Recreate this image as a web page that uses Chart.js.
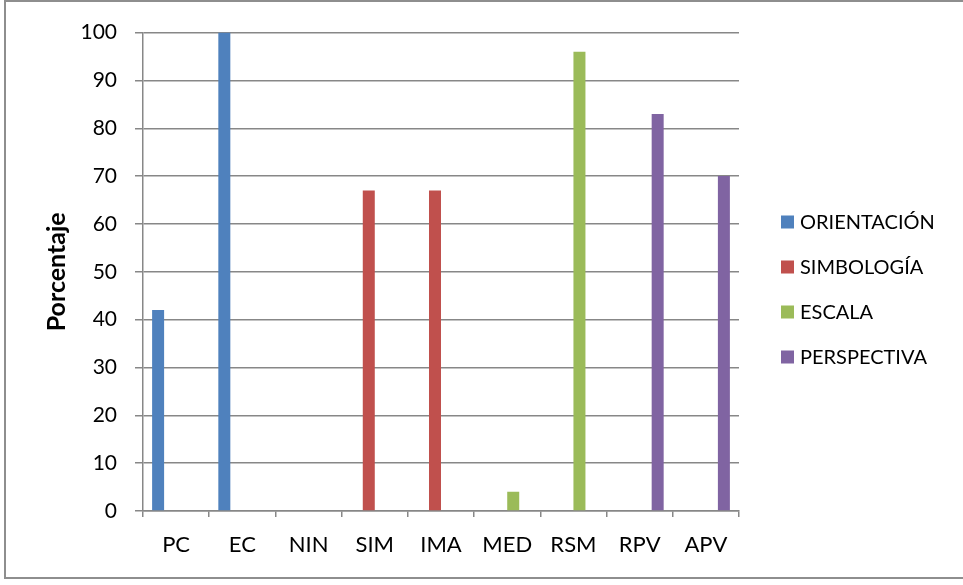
<!DOCTYPE html>
<html lang="es">
<head>
<meta charset="utf-8"/>
<title>Porcentaje por categoría</title>
<script src="https://cdn.jsdelivr.net/npm/chart.js"></script>
<style>
    html, body { margin: 0; padding: 0; background: #fff; overflow: hidden; }
    .frame { position: absolute; left: 4px; top: 0px; width: 965px; height: 575px; border: 2px solid #8e8e8e; }
    canvas { display: block; }
  </style>
</head>
<body>
<div class="frame">
<canvas id="chart" width="951" height="575"></canvas>
</div>
<script>
    const categorias = ['PC', 'EC', 'NIN', 'SIM', 'IMA', 'MED', 'RSM', 'RPV', 'APV'];
    const orientacion = [42, 100, null, null, null, null, null, null, null];
    const simbologia = [null, null, null, 67, 67, null, null, null, null];
    const escala = [null, null, null, null, null, 4, 96, null, null];
    const perspectiva = [null, null, null, null, null, null, null, 83, 70];
    const ticksY = [0, 10, 20, 30, 40, 50, 60, 70, 80, 90, 100];

    const gris = '#878787';
    const fuente = 'Lato, "Open Sans", sans-serif';

    // leyenda a la derecha, dibujada a mano
    const leyenda = {
      id: 'leyenda',
      afterDraw(chart) {
        const ctx = chart.ctx;
        ctx.save();
        ctx.font = '20px ' + fuente;
        ctx.textBaseline = 'middle';
        chart.data.datasets.forEach((ds, i) => {
          const y = 220 + i * 45;
          ctx.fillStyle = ds.backgroundColor;
          ctx.fillRect(775, y - 6.5, 13, 13);
          ctx.fillStyle = '#000';
          ctx.fillText(ds.label, 794, y + 1);
        });
        ctx.restore();
      }
    };

    new Chart(document.getElementById('chart'), {
      type: 'bar',
      data: {
        labels: categorias,
        datasets: [
          { label: 'ORIENTACIÓN', data: orientacion, backgroundColor: '#4f81bd' },
          { label: 'SIMBOLOGÍA', data: simbologia, backgroundColor: '#c0504d' },
          { label: 'ESCALA', data: escala, backgroundColor: '#9bbb59' },
          { label: 'PERSPECTIVA', data: perspectiva, backgroundColor: '#8064a2' }
        ]
      },
      options: {
        responsive: false,
        animation: false,
        barPercentage: 1,
        categoryPercentage: 0.725,
        layout: { padding: { left: 0, top: 30, right: 218, bottom: 0 } },
        plugins: { legend: { display: false }, tooltip: { enabled: false } },
        scales: {
          x: {
            afterFit: s => { s.height = 66; },
            grid: { offset: true, drawOnChartArea: false, drawTicks: true, tickLength: 6, color: gris, lineWidth: 1.5 },
            border: { color: gris, width: 1.5 },
            ticks: { color: '#000', font: { family: fuente, size: 22 }, padding: 15 }
          },
          y: {
            min: 0,
            max: 100,
            afterFit: s => { s.width = 137; },
            afterBuildTicks: s => { s.ticks = ticksY.map(v => ({ value: v })); },
            grid: { color: gris, lineWidth: 1.5, tickLength: 8 },
            border: { color: gris, width: 1.5 },
            ticks: { color: '#000', font: { family: fuente, size: 21 }, padding: 18 },
            title: {
              display: true,
              text: 'Porcentaje',
              color: '#000',
              font: { family: fuente, size: 25, weight: 'bold' },
              padding: { top: 36 }
            }
          }
        }
      },
      plugins: [leyenda]
    });
  </script>
</body>
</html>
